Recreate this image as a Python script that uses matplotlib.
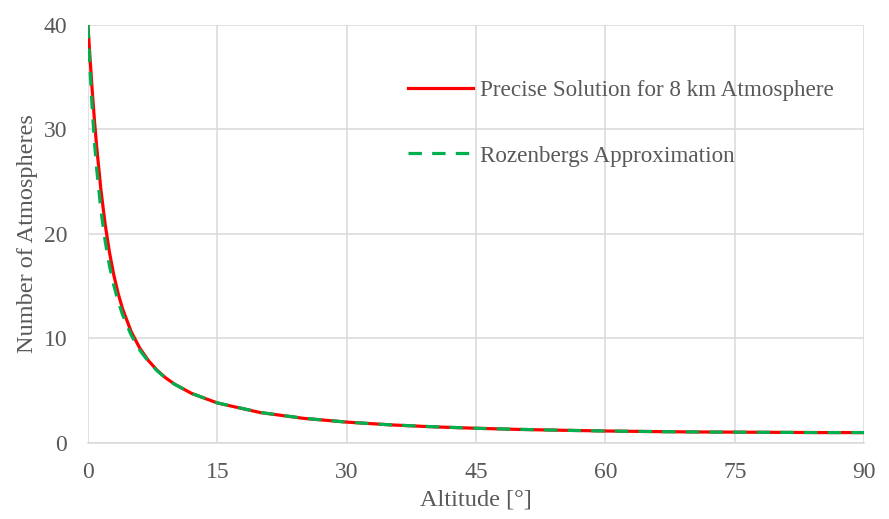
import numpy as np
import matplotlib.pyplot as plt

# Altitude angles [deg] and number of atmospheres
altitude = [0, 0.1, 0.25, 0.5, 0.75, 1, 1.5, 2, 2.5, 3, 3.5, 4, 5, 6, 7, 8, 9, 10,
            12, 15, 20, 25, 30, 35, 40, 45, 50, 55, 60, 65, 70, 75, 80, 85, 90]
precise = [39.92, 38.56, 36.60, 33.58, 30.84, 28.38, 24.19, 20.86, 18.18, 16.04, 14.29,
           12.86, 10.66, 9.08, 7.89, 6.97, 6.24, 5.65, 4.75, 3.83, 2.91, 2.36, 2.00,
           1.74, 1.55, 1.41, 1.30, 1.22, 1.15, 1.10, 1.06, 1.04, 1.02, 1.00, 1.00]
rozenberg = [40.0, 38.07, 35.47, 31.80, 28.79, 26.26, 22.26, 19.26, 16.92, 15.06, 13.55,
             12.29, 10.34, 8.89, 7.79, 6.92, 6.21, 5.64, 4.75, 3.84, 2.92, 2.37, 2.00,
             1.74, 1.56, 1.41, 1.31, 1.22, 1.15, 1.10, 1.06, 1.04, 1.02, 1.00, 1.00]

xticks = [0, 15, 30, 45, 60, 75, 90]
yticks = [0, 10, 20, 30, 40]

plt.rcParams['font.family'] = ['Liberation Serif', 'DejaVu Serif']
txt = '#595959'
grid = '#d9d9d9'

fig = plt.figure(figsize=(8.89, 5.19), dpi=100)
ax = fig.add_axes([0.099, 0.1464, 0.873, 0.8056])

ax.plot(altitude, precise, color='#ff0000', lw=2.3, label='Precise Solution for 8 km Atmosphere')
ax.plot(altitude, rozenberg, color='#00b050', lw=2.3, dashes=(4.2, 3.2),
        label='Rozenbergs Approximation')

ax.set_xlim(0, 90)
ax.set_ylim(0, 40)
ax.set_xticks(xticks)
ax.set_yticks(yticks)
ax.grid(True, color=grid, lw=1.1)
ax.set_axisbelow(True)
for s in ['top', 'right', 'left']:
    ax.spines[s].set_visible(False)
ax.spines['bottom'].set_color(grid)
ax.spines['bottom'].set_linewidth(1.1)
ax.tick_params(length=0, labelsize=17, labelcolor=txt)
ax.tick_params(axis='x', pad=14)
ax.tick_params(axis='y', pad=15)

ax.set_xlabel('Altitude [°]', fontsize=17.5, color=txt, labelpad=4)
ax.set_ylabel('Number of Atmospheres', fontsize=17.5, color=txt, labelpad=4)

leg = ax.legend(loc='upper left', bbox_to_anchor=(0.386, 0.918), frameon=False,
                fontsize=16.7, handlelength=2.8, handletextpad=0.27, labelspacing=1.9,
                labelcolor=txt)

fig.savefig('out.png', dpi=100)
